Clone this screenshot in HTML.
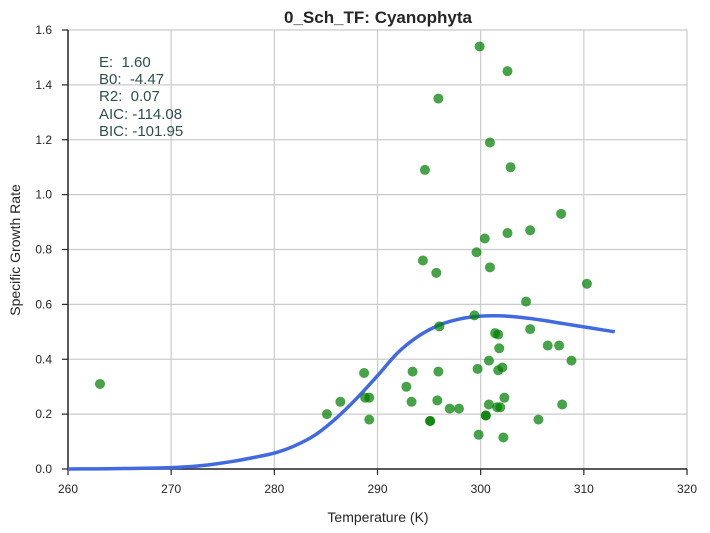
<!DOCTYPE html>
<html><head><meta charset="utf-8"><style>
html,body{margin:0;padding:0;background:#fff;}
svg{display:block;font-family:"Liberation Sans",sans-serif;}
</style></head><body>
<svg id="chart" width="710" height="533">
<text x="378" y="23" text-anchor="middle" font-size="17" font-weight="bold" fill="#262626">0_Sch_TF: Cyanophyta</text>
<g id="grid"></g>
<g id="axes"></g>
<g id="curve"></g>
<g id="points"></g>
<g font-size="15" fill="#2f4f4f">
<text x="99" y="67">E:&#160; 1.60</text>
<text x="99" y="84">B0:&#160; -4.47</text>
<text x="99" y="101">R2:&#160; 0.07</text>
<text x="99" y="119">AIC: -114.08</text>
<text x="99" y="136">BIC: -101.95</text>
</g>
<text x="378" y="522" text-anchor="middle" font-size="14" fill="#262626">Temperature (K)</text>
<text transform="translate(20,250) rotate(-90)" text-anchor="middle" font-size="14" fill="#262626">Specific Growth Rate</text>
</svg>
<script>
const xTicks=[260,270,280,290,300,310,320];
const yTicks=[0.0,0.2,0.4,0.6,0.8,1.0,1.2,1.4,1.6];
const temps=[263.1,285.1,286.4,288.7,288.8,289.2,289.2,292.8,293.4,293.3,294.4,294.6,295.1,295.1,295.7,295.9,295.9,295.8,296.0,297.0,297.9,299.4,299.6,299.7,299.8,299.9,300.4,300.8,300.5,300.5,300.8,300.9,300.9,301.4,301.7,301.8,301.7,302.1,301.9,301.6,302.3,302.2,302.6,302.6,302.9,304.4,304.8,304.8,305.6,306.5,307.6,307.8,307.9,308.8,310.3];
const rates=[0.31,0.20,0.245,0.35,0.26,0.26,0.18,0.30,0.355,0.245,0.76,1.09,0.175,0.175,0.715,1.35,0.355,0.25,0.52,0.22,0.22,0.56,0.79,0.365,0.125,1.54,0.84,0.235,0.195,0.195,0.395,1.19,0.735,0.495,0.49,0.44,0.36,0.37,0.225,0.225,0.26,0.115,1.45,0.86,1.10,0.61,0.87,0.51,0.18,0.45,0.45,0.93,0.235,0.395,0.675];
const curveT=[260,262,264,266,268,270,272,274,276,278,280,282,284,286,288,290,292,294,296,298,300,302,304,306,308,310,312,313];
const curveV=[0.0,0.0005,0.001,0.002,0.003,0.005,0.009,0.017,0.028,0.042,0.058,0.085,0.125,0.185,0.258,0.34,0.425,0.485,0.525,0.547,0.557,0.558,0.552,0.542,0.53,0.518,0.506,0.50];
const X0=68,X1=687,Y0=469,Y1=30;
const xs=t=>X0+(t-260)/60*(X1-X0);
const ys=v=>Y0-v/1.6*(Y0-Y1);
const NS="http://www.w3.org/2000/svg";
function mk(tag,attrs,parent){const e=document.createElementNS(NS,tag);for(const k in attrs)e.setAttribute(k,attrs[k]);parent.appendChild(e);return e;}
const grid=document.getElementById('grid'),axes=document.getElementById('axes');
xTicks.forEach(t=>{
 const g=mk('line',{x1:xs(t),x2:xs(t),y1:Y1,y2:Y0,stroke:'#cccccc','stroke-width':1.2},grid);
 
 
 const tk=mk('line',{x1:xs(t),x2:xs(t),y1:Y0,y2:Y0+6,stroke:'#262626','stroke-width':1.2},axes);
 
 
 const l=mk('text',{x:xs(t),y:Y0+24,'text-anchor':'middle','font-size':12,fill:'#262626'},axes);
 l.textContent=t;
 
 
});
yTicks.forEach(v=>{
 const g=mk('line',{x1:X0,x2:X1,y1:ys(v),y2:ys(v),stroke:'#cccccc','stroke-width':1.2},grid);
 
 
 const tk=mk('line',{x1:X0-6,x2:X0,y1:ys(v),y2:ys(v),stroke:'#262626','stroke-width':1.2},axes);
 
 
 const l=mk('text',{x:X0-16,y:ys(v)+4,'text-anchor':'end','font-size':12,fill:'#262626'},axes);
 l.textContent=v.toFixed(1);
 
 
});
const ya=mk('line',{x1:X0,x2:X0,y1:Y1,y2:Y0+0.6,stroke:'#262626','stroke-width':1.5},axes);


const xa=mk('line',{x1:X0,x2:X1,y1:Y0,y2:Y0,stroke:'#262626','stroke-width':1.5},axes);


const P=curveT.map((t,i)=>[xs(t),ys(curveV[i])]);
let d='M'+P[0][0]+','+P[0][1];
for(let i=0;i<P.length-1;i++){
 const p0=P[Math.max(0,i-1)],p1=P[i],p2=P[i+1],p3=P[Math.min(P.length-1,i+2)];
 const c1=[p1[0]+(p2[0]-p0[0])/6,p1[1]+(p2[1]-p0[1])/6];
 const c2=[p2[0]-(p3[0]-p1[0])/6,p2[1]-(p3[1]-p1[1])/6];
 d+=' C'+c1+' '+c2+' '+p2;
}
const path=mk('path',{d:d,fill:'none',stroke:'#4169e1','stroke-width':3.5},document.getElementById('curve'));


const pts=document.getElementById('points');
temps.forEach((t,i)=>{
 const c=mk('circle',{cx:xs(t),cy:ys(rates[i]),r:5,fill:'green','fill-opacity':0.72},pts);
 
 
});
</script>
</body></html>
